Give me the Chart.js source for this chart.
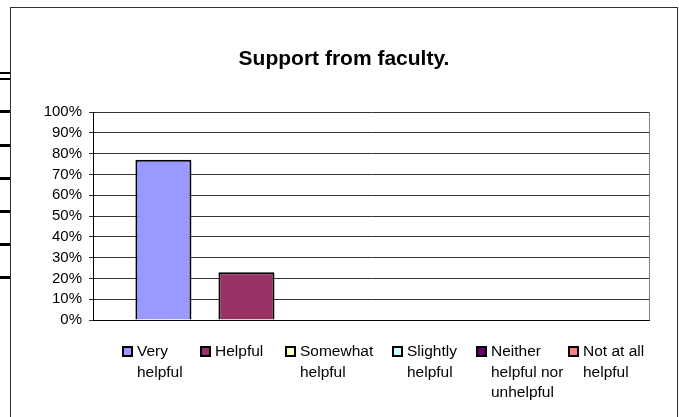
<!DOCTYPE html>
<html>
<head>
<meta charset="utf-8">
<script src="https://cdn.jsdelivr.net/npm/chart.js@4.4.0/dist/chart.umd.min.js"></script>
<style>
  html, body { margin: 0; padding: 0; background: #fff; }
  #wrap { width: 679px; height: 417px; }
</style>
</head>
<body>
<div id="wrap"><canvas id="chart" width="679" height="417"></canvas></div>
<script>
const chartTitle = 'Support from faculty.';
const categories = ['Support from faculty'];
const responses = [
  ['Very', 'helpful'],
  ['Helpful'],
  ['Somewhat', 'helpful'],
  ['Slightly', 'helpful'],
  ['Neither', 'helpful nor', 'unhelpful'],
  ['Not at all', 'helpful']
];
const percentages = [77, 23, 0, 0, 0, 0];
const barColors = ['#9999FF', '#993366', '#FFFFCC', '#CCFFFF', '#660066', '#FF8080'];
const tickValues = [0, 10, 20, 30, 40, 50, 60, 70, 80, 90, 100];

// layout bits (not data)
const legendX = [122, 200, 285, 392, 476, 568];
const stubY = [111, 145, 178, 211, 244, 277];
const FONT = 'Arial, "Liberation Sans", sans-serif';

const datasets = responses.map((r, i) => ({
  label: r.join(' '),
  data: [percentages[i]],
  backgroundColor: barColors[i],
  borderColor: '#000',
  borderWidth: 2,
  barPercentage: 0.675,
  categoryPercentage: 0.896
}));

// border, left stubs, title, legend
const decor = {
  id: 'decor',
  beforeDraw(chart) {
    const ctx = chart.ctx;
    ctx.save();
    ctx.fillStyle = '#fff';
    ctx.fillRect(0, 0, chart.width, chart.height);
    ctx.restore();
  },
  afterDraw(chart) {
    const ctx = chart.ctx;
    ctx.save();
    ctx.strokeStyle = '#333';
    ctx.lineWidth = 1;
    ctx.strokeRect(10.5, 7.5, 667, 430);

    ctx.fillStyle = '#000';
    ctx.fillRect(0, 72, 10, 2);
    ctx.fillRect(0, 78, 10, 2);
    stubY.forEach(y => ctx.fillRect(0, y - 1, 10, 3));

    ctx.font = 'bold 21px ' + FONT;
    ctx.textAlign = 'center';
    ctx.textBaseline = 'middle';
    ctx.fillText(chartTitle, 344, 59);

    ctx.font = '15.5px ' + FONT;
    ctx.textAlign = 'left';
    responses.forEach((lines, i) => {
      const x = legendX[i];
      ctx.fillStyle = barColors[i];
      ctx.fillRect(x + 1, 347, 9, 9);
      ctx.strokeStyle = '#000';
      ctx.lineWidth = 2;
      ctx.strokeRect(x + 1, 347, 9, 9);
      ctx.fillStyle = '#000';
      lines.forEach((t, j) => ctx.fillText(t, x + 15, 352 + j * 20.5));
    });
    ctx.restore();
  }
};

new Chart(document.getElementById('chart'), {
  type: 'bar',
  data: { labels: categories, datasets: datasets },
  options: {
    responsive: false,
    animation: false,
    layout: { padding: { left: 0, right: 30, top: 112, bottom: 97 } },
    plugins: {
      legend: { display: false },
      title: { display: false },
      tooltip: { enabled: false }
    },
    scales: {
      x: {
        ticks: { display: false },
        grid: { color: '#808080', drawTicks: false, offset: true },
        border: { display: true, color: '#000', width: 1 },
        afterFit(s) { s.height = 0; }
      },
      y: {
        min: 0,
        max: 100,
        afterBuildTicks(s) { s.ticks = tickValues.map(v => ({ value: v })); },
        ticks: {
          color: '#000',
          padding: 7,
          autoSkip: false,
          font: { family: FONT, size: 15 },
          callback: v => v + '%'
        },
        grid: { color: '#333', tickLength: 4 },
        border: { display: true, color: '#000', width: 1 },
        afterFit(s) { s.width = 93; }
      }
    }
  },
  plugins: [decor]
});
</script>
</body>
</html>
